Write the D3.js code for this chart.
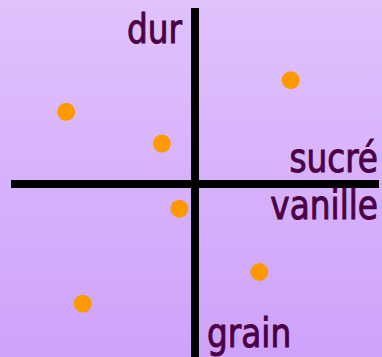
<!DOCTYPE html>
<html>
<head>
<meta charset="utf-8">
<script src="https://cdn.jsdelivr.net/npm/d3@7"></script>
<style>
  html, body { margin: 0; padding: 0; overflow: hidden; }
  .label { font-family: "DejaVu Sans Condensed", "DejaVu Sans", sans-serif; font-size: 40px;
           fill: #4b0046; stroke: #4b0046; stroke-width: 0.9px; }
</style>
</head>
<body>
<div id="chart"></div>
<script>
// product map : x = sucré/vanille axis, y = dur/grain axis
var xVals = [0.52, -0.70, -0.18, -0.085, 0.35, -0.61];
var yVals = [0.59, 0.41, 0.23, -0.14, -0.50, -0.68];
var axisLabels = ['dur', 'sucré', 'vanille', 'grain'];

var width = 382, height = 357;

var svg = d3.select('#chart').append('svg')
  .attr('width', width)
  .attr('height', height);

var defs = svg.append('defs');
var grad = defs.append('linearGradient')
  .attr('id', 'bg')
  .attr('x1', 0).attr('y1', 0).attr('x2', 0).attr('y2', 1);
grad.append('stop').attr('offset', '0%').attr('stop-color', '#e0c2fc');
grad.append('stop').attr('offset', '100%').attr('stop-color', '#cea2fb');

svg.append('rect')
  .attr('width', width)
  .attr('height', height)
  .attr('fill', 'url(#bg)');

var x = d3.scaleLinear().domain([-1, 1]).range([11, 379]);
var y = d3.scaleLinear().domain([-1, 1]).range([360, 8]);

// axes
svg.append('line')
  .attr('x1', x(-1)).attr('x2', x(1))
  .attr('y1', y(0)).attr('y2', y(0))
  .attr('stroke', '#000').attr('stroke-width', 8);
svg.append('line')
  .attr('x1', x(0)).attr('x2', x(0))
  .attr('y1', y(1)).attr('y2', y(-1))
  .attr('stroke', '#000').attr('stroke-width', 8);

// points
svg.selectAll('.pt')
  .data(xVals.map(function(d, i) { return {x: d, y: yVals[i]}; }))
  .enter().append('circle')
  .attr('class', 'pt')
  .attr('cx', function(d) { return x(d.x); })
  .attr('cy', function(d) { return y(d.y); })
  .attr('r', 9)
  .attr('fill', '#ff9900');

// labels, slightly narrowed
var sx = 0.91;
function label(txt, px, py, anchor) {
  svg.append('text').attr('class', 'label')
    .attr('transform', 'translate(' + px + ',' + py + ') scale(' + sx + ',1)')
    .attr('text-anchor', anchor).text(txt);
}
label(axisLabels[0], x(0) - 13, 43, 'end');
label(axisLabels[1], 378, 172, 'end');
label(axisLabels[2], 378, 219, 'end');
label(axisLabels[3], x(0) + 12, 347, 'start');
</script>
</body>
</html>
